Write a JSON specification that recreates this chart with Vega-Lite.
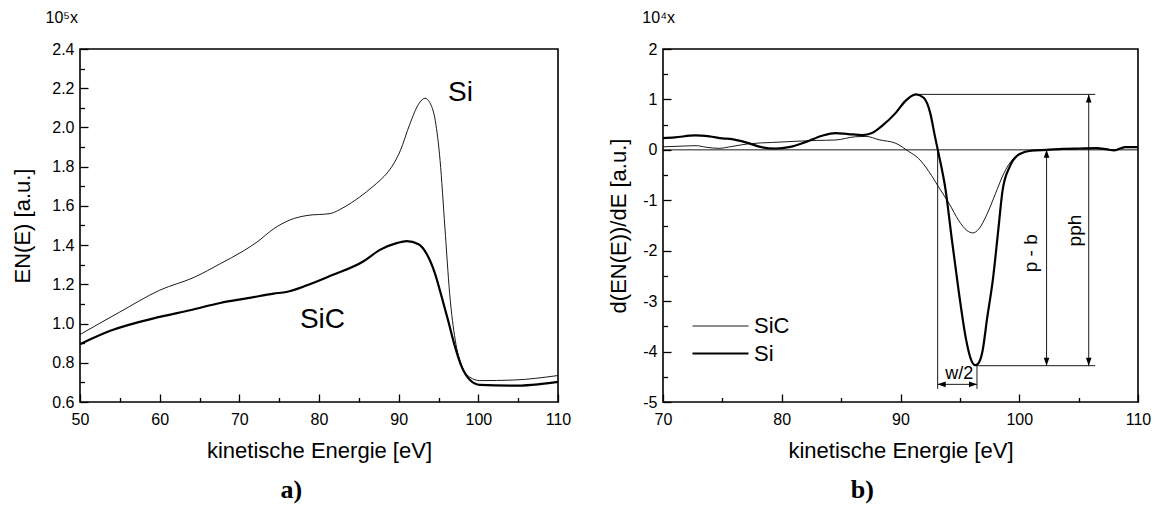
{
  "$schema": "https://vega.github.io/schema/vega-lite/v6.json",
  "background": "white",
  "padding": {"left": 10, "top": 9, "right": 8, "bottom": 5},
  "config": {
    "font": "Liberation Sans",
    "view": {"stroke": "black", "strokeWidth": 1.6},
    "axis": {
      "domain": false, "tickColor": "black", "tickWidth": 1.3,
      "labelColor": "black", "titleColor": "black", "labelFont": "Liberation Sans", "titleFont": "Liberation Sans",
      "labelFontSize": 16, "titleFontSize": 22, "titleFontWeight": "normal", "grid": false,
      "labelFlush": false, "labelOverlap": false
    }
  },
  "datasets": {
    "en": [
      {"series": "Si", "E": 50, "v": 0.944}, {"series": "Si", "E": 55, "v": 1.059}, {"series": "Si", "E": 60, "v": 1.17},
      {"series": "Si", "E": 64.4, "v": 1.237}, {"series": "Si", "E": 67.6, "v": 1.305}, {"series": "Si", "E": 70.5, "v": 1.37},
      {"series": "Si", "E": 72.2, "v": 1.415}, {"series": "Si", "E": 74.3, "v": 1.483}, {"series": "Si", "E": 76.4, "v": 1.529},
      {"series": "Si", "E": 78.5, "v": 1.551}, {"series": "Si", "E": 81.4, "v": 1.561}, {"series": "Si", "E": 83.0, "v": 1.59},
      {"series": "Si", "E": 85.1, "v": 1.645}, {"series": "Si", "E": 86.8, "v": 1.7}, {"series": "Si", "E": 87.7, "v": 1.732},
      {"series": "Si", "E": 88.7, "v": 1.775}, {"series": "Si", "E": 90.2, "v": 1.881}, {"series": "Si", "E": 91.4, "v": 2.017},
      {"series": "Si", "E": 92.5, "v": 2.119}, {"series": "Si", "E": 93.3, "v": 2.149}, {"series": "Si", "E": 93.9, "v": 2.127},
      {"series": "Si", "E": 94.6, "v": 2.034}, {"series": "Si", "E": 95.2, "v": 1.831}, {"series": "Si", "E": 95.8, "v": 1.492},
      {"series": "Si", "E": 96.4, "v": 1.153}, {"series": "Si", "E": 97.1, "v": 0.916}, {"series": "Si", "E": 97.9, "v": 0.788},
      {"series": "Si", "E": 98.95, "v": 0.726}, {"series": "Si", "E": 100.2, "v": 0.709}, {"series": "Si", "E": 104.4, "v": 0.712},
      {"series": "Si", "E": 110, "v": 0.735},
      {"series": "SiC", "E": 50, "v": 0.895}, {"series": "SiC", "E": 53.8, "v": 0.963}, {"series": "SiC", "E": 60, "v": 1.034},
      {"series": "SiC", "E": 63.8, "v": 1.068}, {"series": "SiC", "E": 67.6, "v": 1.105}, {"series": "SiC", "E": 71.3, "v": 1.131},
      {"series": "SiC", "E": 74.3, "v": 1.153}, {"series": "SiC", "E": 75.9, "v": 1.161}, {"series": "SiC", "E": 78.5, "v": 1.195},
      {"series": "SiC", "E": 81.6, "v": 1.246}, {"series": "SiC", "E": 85.6, "v": 1.318}, {"series": "SiC", "E": 87.7, "v": 1.377},
      {"series": "SiC", "E": 89.75, "v": 1.41}, {"series": "SiC", "E": 91.0, "v": 1.42}, {"series": "SiC", "E": 92.5, "v": 1.404},
      {"series": "SiC", "E": 93.5, "v": 1.356}, {"series": "SiC", "E": 94.56, "v": 1.255}, {"series": "SiC", "E": 95.4, "v": 1.136},
      {"series": "SiC", "E": 96.2, "v": 1.017}, {"series": "SiC", "E": 97.07, "v": 0.882}, {"series": "SiC", "E": 97.9, "v": 0.78},
      {"series": "SiC", "E": 98.95, "v": 0.712}, {"series": "SiC", "E": 100.2, "v": 0.687}, {"series": "SiC", "E": 104.4, "v": 0.683},
      {"series": "SiC", "E": 110, "v": 0.703}
    ],
    "tags": [
      {"label": "Si", "E": 96.2, "v": 2.174},
      {"label": "SiC", "E": 77.6, "v": 1.02}
    ],
    "deriv": [
      {"series": "Si", "E": 70, "v": 0.233}, {"series": "Si", "E": 71, "v": 0.247}, {"series": "Si", "E": 72.7, "v": 0.287},
      {"series": "Si", "E": 73.9, "v": 0.267}, {"series": "Si", "E": 75, "v": 0.227}, {"series": "Si", "E": 75.8, "v": 0.213},
      {"series": "Si", "E": 77.2, "v": 0.133}, {"series": "Si", "E": 78.3, "v": 0.053}, {"series": "Si", "E": 79.5, "v": 0.027},
      {"series": "Si", "E": 80.6, "v": 0.053}, {"series": "Si", "E": 82, "v": 0.153}, {"series": "Si", "E": 83.4, "v": 0.28},
      {"series": "Si", "E": 84.5, "v": 0.333}, {"series": "Si", "E": 85.6, "v": 0.313}, {"series": "Si", "E": 86.8, "v": 0.293},
      {"series": "Si", "E": 87.6, "v": 0.333}, {"series": "Si", "E": 88.4, "v": 0.467}, {"series": "Si", "E": 89.6, "v": 0.733},
      {"series": "Si", "E": 90.4, "v": 0.967}, {"series": "Si", "E": 91.3, "v": 1.1}, {"series": "Si", "E": 91.95, "v": 1.033},
      {"series": "Si", "E": 92.5, "v": 0.733}, {"series": "Si", "E": 92.9, "v": 0.267}, {"series": "Si", "E": 93.2, "v": -0.067},
      {"series": "Si", "E": 93.8, "v": -0.8}, {"series": "Si", "E": 94.3, "v": -1.733}, {"series": "Si", "E": 94.9, "v": -2.8},
      {"series": "Si", "E": 95.5, "v": -3.733}, {"series": "Si", "E": 95.9, "v": -4.133}, {"series": "Si", "E": 96.3, "v": -4.27},
      {"series": "Si", "E": 96.5, "v": -4.25}, {"series": "Si", "E": 96.9, "v": -4.0}, {"series": "Si", "E": 97.3, "v": -3.333},
      {"series": "Si", "E": 97.8, "v": -2.533}, {"series": "Si", "E": 98.2, "v": -1.667}, {"series": "Si", "E": 98.6, "v": -0.8},
      {"series": "Si", "E": 99.2, "v": -0.333}, {"series": "Si", "E": 100, "v": -0.087}, {"series": "Si", "E": 101.1, "v": -0.013},
      {"series": "Si", "E": 102.3, "v": 0}, {"series": "Si", "E": 103.7, "v": 0.02}, {"series": "Si", "E": 105.1, "v": 0.027},
      {"series": "Si", "E": 106.5, "v": 0.033}, {"series": "Si", "E": 107.3, "v": 0.013}, {"series": "Si", "E": 108, "v": -0.013},
      {"series": "Si", "E": 108.9, "v": 0.053}, {"series": "Si", "E": 110, "v": 0.053},
      {"series": "SiC", "E": 70, "v": 0.06}, {"series": "SiC", "E": 71.7, "v": 0.075}, {"series": "SiC", "E": 72.8, "v": 0.083},
      {"series": "SiC", "E": 73.6, "v": 0.053}, {"series": "SiC", "E": 74.7, "v": 0.03}, {"series": "SiC", "E": 75.8, "v": 0.067},
      {"series": "SiC", "E": 77.2, "v": 0.12}, {"series": "SiC", "E": 79.2, "v": 0.147}, {"series": "SiC", "E": 81.2, "v": 0.17},
      {"series": "SiC", "E": 82.9, "v": 0.187}, {"series": "SiC", "E": 84.5, "v": 0.195}, {"series": "SiC", "E": 86.2, "v": 0.26},
      {"series": "SiC", "E": 87.1, "v": 0.267}, {"series": "SiC", "E": 88.2, "v": 0.2}, {"series": "SiC", "E": 89.6, "v": 0.13},
      {"series": "SiC", "E": 90.7, "v": -0.033}, {"series": "SiC", "E": 91.5, "v": -0.167}, {"series": "SiC", "E": 92.4, "v": -0.433},
      {"series": "SiC", "E": 93.2, "v": -0.733}, {"series": "SiC", "E": 94.1, "v": -1.067}, {"series": "SiC", "E": 94.9, "v": -1.4},
      {"series": "SiC", "E": 95.6, "v": -1.6}, {"series": "SiC", "E": 96.1, "v": -1.647}, {"series": "SiC", "E": 96.6, "v": -1.567},
      {"series": "SiC", "E": 97.3, "v": -1.267}, {"series": "SiC", "E": 98, "v": -0.867}, {"series": "SiC", "E": 98.7, "v": -0.467},
      {"series": "SiC", "E": 99.4, "v": -0.2}, {"series": "SiC", "E": 100.3, "v": -0.053}, {"series": "SiC", "E": 101.4, "v": -0.013},
      {"series": "SiC", "E": 103.7, "v": 0.013}, {"series": "SiC", "E": 106.5, "v": 0.027}, {"series": "SiC", "E": 108, "v": 0},
      {"series": "SiC", "E": 108.9, "v": 0.047}, {"series": "SiC", "E": 110, "v": 0.047}
    ],
    "segs": [
      {"part": "baseline", "E": 70, "v": 0, "E2": 110, "v2": 0},
      {"part": "peak level", "E": 91.2, "v": 1.1, "E2": 106.4, "v2": 1.1},
      {"part": "minimum level", "E": 96.4, "v": -4.28, "E2": 106.4, "v2": -4.28},
      {"part": "pph", "E": 105.85, "v": 1.1, "E2": 105.85, "v2": -4.28},
      {"part": "p - b", "E": 102.3, "v": 0, "E2": 102.3, "v2": -4.28},
      {"part": "w left", "E": 93.13, "v": 0, "E2": 93.13, "v2": -4.74},
      {"part": "w right", "E": 96.44, "v": -4.28, "E2": 96.44, "v2": -4.74},
      {"part": "w/2", "E": 93.13, "v": -4.65, "E2": 96.44, "v2": -4.65}
    ],
    "heads": [
      {"dir": "up", "E": 105.85, "v": 1.1}, {"dir": "down", "E": 105.85, "v": -4.28},
      {"dir": "up", "E": 102.3, "v": 0}, {"dir": "down", "E": 102.3, "v": -4.28},
      {"dir": "left", "E": 93.13, "v": -4.65}, {"dir": "right", "E": 96.44, "v": -4.65}
    ],
    "vnotes": [
      {"label": "p - b", "E": 100.95, "v": -2.05},
      {"label": "pph", "E": 104.7, "v": -1.6}
    ],
    "hnotes": [
      {"label": "w/2", "E": 94.95, "v": -4.45}
    ]
  },
  "hconcat": [
    {
      "title": {"text": "a)", "orient": "bottom", "anchor": "middle", "font": "Liberation Serif", "fontSize": 26, "fontWeight": "bold", "color": "black", "offset": 15},
      "vconcat": [
        {
          "width": 478, "height": 353,
          "title": {"text": "10⁵x", "anchor": "start", "frame": "group", "align": "right", "dx": -2, "fontSize": 16, "fontWeight": "normal", "font": "Liberation Sans", "color": "black", "offset": 15},
          "resolve": {"axis": {"x": "independent", "y": "independent"}},
          "layer": [
            {
              "data": {"name": "en"},
              "mark": {"type": "line", "color": "black", "interpolate": "monotone"},
              "encoding": {
                "x": {"field": "E", "type": "quantitative", "scale": {"domain": [50, 110], "nice": false, "zero": false},
                  "axis": {"orient": "bottom", "title": "kinetische Energie [eV]", "values": [50, 60, 70, 80, 90, 100, 110],
                    "offset": -8, "tickSize": 8, "labelPadding": 9, "titlePadding": 13}},
                "y": {"field": "v", "type": "quantitative", "scale": {"domain": [0.6, 2.4], "nice": false, "zero": false},
                  "axis": {"orient": "left", "title": "EN(E) [a.u.]", "values": [0.6, 0.8, 1.0, 1.2, 1.4, 1.6, 1.8, 2.0, 2.2, 2.4], "format": ".1f",
                    "offset": -8, "tickSize": 8, "labelPadding": 6, "titlePadding": 17}},
                "strokeWidth": {"field": "series", "type": "nominal", "scale": {"domain": ["Si", "SiC"], "range": [0.9, 2.2]}, "legend": null}
              }
            },
            {
              "data": {"name": "tags"},
              "mark": {"type": "text", "align": "left", "baseline": "middle", "fontSize": 28, "font": "Liberation Sans", "color": "black"},
              "encoding": {
                "x": {"field": "E", "type": "quantitative", "scale": {"domain": [50, 110], "nice": false, "zero": false},
                  "axis": {"orient": "bottom", "title": null, "labels": false, "values": [55, 65, 75, 85, 95, 105], "offset": -4.5, "tickSize": 4.5}},
                "y": {"field": "v", "type": "quantitative", "scale": {"domain": [0.6, 2.4], "nice": false, "zero": false},
                  "axis": {"orient": "left", "title": null, "labels": false, "values": [0.7, 0.9, 1.1, 1.3, 1.5, 1.7, 1.9, 2.1, 2.3], "offset": -4.5, "tickSize": 4.5}},
                "text": {"field": "label"}
              }
            }
          ]
        }
      ]
    },
    {
      "title": {"text": "b)", "orient": "bottom", "anchor": "middle", "dx": -17, "font": "Liberation Serif", "fontSize": 26, "fontWeight": "bold", "color": "black", "offset": 15},
      "vconcat": [
        {
          "width": 475, "height": 353,
          "title": {"text": "10⁴x", "anchor": "start", "frame": "group", "align": "right", "dx": 12, "fontSize": 16, "fontWeight": "normal", "font": "Liberation Sans", "color": "black", "offset": 15},
          "resolve": {"axis": {"x": "independent", "y": "independent"}},
          "layer": [
            {
              "data": {"name": "segs"},
              "mark": {"type": "rule", "color": "black", "strokeWidth": 0.9},
              "encoding": {
                "x": {"field": "E", "type": "quantitative", "scale": {"domain": [70, 110], "nice": false, "zero": false},
                  "axis": {"orient": "bottom", "title": null, "labels": false, "values": [75, 85, 95, 105], "offset": -4.5, "tickSize": 4.5}},
                "y": {"field": "v", "type": "quantitative", "scale": {"domain": [-5, 2], "nice": false, "zero": false},
                  "axis": {"orient": "left", "title": null, "labels": false, "values": [-4.5, -3.5, -2.5, -1.5, -0.5, 0.5, 1.5], "offset": -4.5, "tickSize": 4.5}},
                "x2": {"field": "E2"},
                "y2": {"field": "v2"}
              }
            },
            {
              "data": {"name": "deriv"},
              "mark": {"type": "line", "color": "black", "interpolate": "monotone"},
              "encoding": {
                "x": {"field": "E", "type": "quantitative", "scale": {"domain": [70, 110], "nice": false, "zero": false},
                  "axis": {"orient": "bottom", "title": "kinetische Energie [eV]", "values": [70, 80, 90, 100, 110],
                    "offset": -8, "tickSize": 8, "labelPadding": 9, "titlePadding": 13}},
                "y": {"field": "v", "type": "quantitative", "scale": {"domain": [-5, 2], "nice": false, "zero": false},
                  "axis": {"orient": "left", "title": "d(EN(E))/dE [a.u.]", "values": [-5, -4, -3, -2, -1, 0, 1, 2], "labelExpr": "datum.value + ''",
                    "offset": -8, "tickSize": 8, "labelPadding": 6, "titlePadding": 12}},
                "strokeWidth": {"field": "series", "type": "nominal", "scale": {"domain": ["SiC", "Si"], "range": [0.9, 2.2]},
                  "legend": {"title": null, "orient": "none", "legendX": 46, "legendY": 266, "padding": 0,
                    "symbolType": "M-2.8,0L2.8,0", "symbolSize": 400, "symbolStrokeColor": "black", "symbolFillColor": "transparent",
                    "labelFontSize": 22, "labelFont": "Liberation Sans", "labelColor": "black", "labelOffset": 22, "rowPadding": 5}}
              }
            },
            {
              "data": {"name": "heads"},
              "mark": {"type": "point", "filled": true, "color": "black", "opacity": 1, "size": 256, "strokeWidth": 0},
              "encoding": {
                "x": {"field": "E", "type": "quantitative", "scale": {"domain": [70, 110], "nice": false, "zero": false}, "axis": null},
                "y": {"field": "v", "type": "quantitative", "scale": {"domain": [-5, 2], "nice": false, "zero": false}, "axis": null},
                "shape": {"field": "dir", "type": "nominal",
                  "scale": {"domain": ["up", "down", "left", "right"],
                    "range": ["M0,0L-0.35,1L0.35,1Z", "M0,0L-0.35,-1L0.35,-1Z", "M0,0L1,-0.35L1,0.35Z", "M0,0L-1,-0.35L-1,0.35Z"]},
                  "legend": null}
              }
            },
            {
              "data": {"name": "vnotes"},
              "mark": {"type": "text", "angle": 270, "align": "center", "baseline": "middle", "fontSize": 19, "font": "Liberation Sans", "color": "black"},
              "encoding": {
                "x": {"field": "E", "type": "quantitative", "scale": {"domain": [70, 110], "nice": false, "zero": false}, "axis": null},
                "y": {"field": "v", "type": "quantitative", "scale": {"domain": [-5, 2], "nice": false, "zero": false}, "axis": null},
                "text": {"field": "label"}
              }
            },
            {
              "data": {"name": "hnotes"},
              "mark": {"type": "text", "align": "center", "baseline": "middle", "fontSize": 18, "font": "Liberation Sans", "color": "black"},
              "encoding": {
                "x": {"field": "E", "type": "quantitative", "scale": {"domain": [70, 110], "nice": false, "zero": false}, "axis": null},
                "y": {"field": "v", "type": "quantitative", "scale": {"domain": [-5, 2], "nice": false, "zero": false}, "axis": null},
                "text": {"field": "label"}
              }
            }
          ]
        }
      ]
    }
  ],
  "spacing": 34,
  "resolve": {"scale": {"strokeWidth": "independent", "shape": "independent"}, "legend": {"strokeWidth": "independent", "shape": "independent"}}
}
